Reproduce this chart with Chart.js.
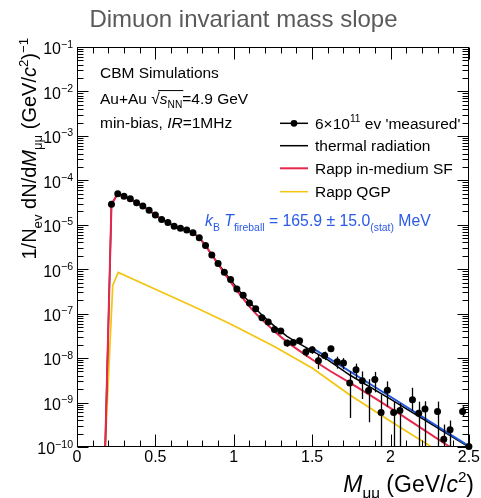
<!DOCTYPE html>
<html><head><meta charset="utf-8">
<script src="https://cdn.jsdelivr.net/npm/chart.js@4.4.1/dist/chart.umd.min.js"></script>
<style>html,body{margin:0;padding:0;background:#fff;}canvas{display:block;}</style>
</head><body>
<canvas id="c" width="481" height="498"></canvas>
<script>
// ---------------- data ----------------
const massBins = [0.22,0.26,0.30,0.34,0.38,0.42,0.46,0.50,0.54,0.58,
  0.62,0.66,0.70,0.74,0.78,0.82,0.86,0.90,0.94,0.98,
  1.02,1.06,1.10,1.14,1.18,1.22,1.26,1.30,1.34,1.38,
  1.42,1.46,1.50,1.54,1.58,1.62,1.66,1.70,1.74,1.78,
  1.82,1.86,1.90,1.94,1.98,2.02,2.06,2.10,2.14,2.18,
  2.22,2.26,2.30,2.34,2.38,2.42,2.46,2.50];
const measured = [2.88e-5,5.0e-5,4.4e-5,3.85e-5,3.13e-5,2.63e-5,2.11e-5,1.66e-5,1.32e-5,1.12e-5,
  9.3e-6,8.3e-6,7.6e-6,6.6e-6,5.1e-6,3.4e-6,2.1e-6,1.35e-6,8.5e-7,5.9e-7,
  3.6e-7,2.6e-7,1.74e-7,1.29e-7,8.1e-8,6.5e-8,4.4e-8,4.1e-8,2.2e-8,2.24e-8,
  2.45e-8,1.38e-8,1.55e-8,8.7e-9,1.15e-8,1.62e-8,8.3e-9,7.8e-9,2.75e-9,5.5e-9,
  3.1e-9,1.86e-9,3.3e-9,6.0e-10,1.9e-9,6.0e-10,6.6e-10,null,1.15e-9,5.75e-10,
  7.2e-10,null,6.3e-10,1.5e-10,2.45e-10,null,6.3e-10,1.02e-10];
const errUp = [0,0,0,0,0,0,0,0,0,0, 0,0,0,0,0,0,0,0,0,0, 0,0,0,0,0,0,0,0,4e-9,3e-9,
  3e-9,3e-9,3e-9,3e-9,2.5e-9,2.5e-9,2.5e-9,2.2e-9,2.3e-9,2e-9,
  1.9e-9,1.5e-9,1.6e-9,9e-10,1.1e-9,4.5e-10,3e-10,0,1e-9,4.7e-10,
  3.5e-10,0,4.2e-10,1.7e-10,1.5e-10,0,2e-10,2.4e-10];
const errDown = [0,0,0,0,0,0,0,0,0,0, 0,0,0,0,0,0,0,0,0,0, 0,0,0,0,0,0,0,0,4e-9,3e-9,
  3e-9,3e-9,3e-9,3e-9,2.5e-9,2.5e-9,2.5e-9,2.2e-9,2.3e-9,2e-9,
  1.9e-9,1.5e-9,1.6e-9,6e-10,1.1e-9,6e-10,6.6e-10,0,5e-10,5.75e-10,
  7.2e-10,0,6.3e-10,1.5e-10,2.45e-10,0,1.5e-10,1.02e-10];

const thermalM = [0.18,0.22,0.26,0.30,0.34,0.38,0.42,0.46,0.50,0.54,0.58,0.62,0.66,0.70,0.74,0.78,0.82,0.86,
  0.90,0.94,0.98,1.02,1.06,1.10,1.14,1.18,1.22,1.26,1.30,1.34,1.40,1.50,1.60,1.74,2.00,2.25,2.50];
const thermalY = [1e-10,2.9e-5,5.0e-5,4.4e-5,3.85e-5,3.13e-5,2.63e-5,2.11e-5,1.66e-5,1.32e-5,1.12e-5,9.3e-6,8.3e-6,7.6e-6,6.6e-6,5.1e-6,3.4e-6,2.1e-6,
  1.35e-6,8.7e-7,5.75e-7,3.8e-7,2.57e-7,1.82e-7,1.29e-7,9.3e-8,6.9e-8,5.25e-8,3.98e-8,3.09e-8,2.29e-8,1.45e-8,9.1e-9,4.17e-9,1.2e-9,3.47e-10,1.0e-10];

const rappSfM = [0.18,0.22,0.26,0.30,0.34,0.38,0.42,0.46,0.50,0.54,0.58,0.62,0.66,0.70,0.74,0.78,0.82,0.86,
  0.90,0.94,0.98,1.02,1.06,1.10,1.15,1.20,1.27,1.34,1.42,1.50,1.62,1.74,1.90,2.06,2.22,2.38];
const rappSfY = [1e-10,2.9e-5,5.0e-5,4.4e-5,3.85e-5,3.13e-5,2.63e-5,2.11e-5,1.66e-5,1.32e-5,1.12e-5,9.3e-6,8.3e-6,7.6e-6,6.6e-6,5.1e-6,3.4e-6,2.1e-6,
  1.29e-6,8.1e-7,5.1e-7,3.3e-7,2.19e-7,1.45e-7,9.3e-8,6.3e-8,3.7e-8,2.29e-8,1.45e-8,9.3e-9,5.0e-9,2.82e-9,1.26e-9,5.5e-10,2.34e-10,1.0e-10];

const qgpM = [0.18,0.228,0.263,0.50,0.75,0.976,1.25,1.50,1.741,2.00,2.262];
const qgpY = [1e-10,4.3e-7,8.5e-7,3.55e-7,1.41e-7,5.9e-8,1.9e-8,6.0e-9,1.48e-9,3.8e-10,1.0e-10];

const fitM = [1.50,2.00,2.50];
const fitY = [1.7e-8,1.35e-9,1.05e-10];

const xTickLabels = ['0','0.5','1','1.5','2','2.5'];
const yDecades = [-1,-2,-3,-4,-5,-6,-7,-8,-9,-10];

// ---------------- style ----------------
const FONT = '"Liberation Sans", Arial, Helvetica, sans-serif';
const RED = '#e8274f', YELLOW = '#f4c40f', BLUE = '#1f57d8', BLUE_TXT = '#2a5ae6';

function pts(ms, ys){ return ms.map((m,i)=>({x:m,y:ys[i]})).filter(p=>p.y!==null); }

function drawRich(ctx, parts, x, y, size, align, color){
  const segs = parts.map(([t,f])=>{
    f = f || '';
    const small = f.includes('b') || f.includes('p');
    const fs = small ? size*0.66 : size;
    const font = (f.includes('i') ? 'italic ' : '') + fs + 'px ' + FONT;
    ctx.font = font;
    return {t, font, w: ctx.measureText(t).width,
            dy: f.includes('b') ? size*0.28 : (f.includes('p') ? -size*0.42 : 0)};
  });
  const total = segs.reduce((a,s)=>a+s.w,0);
  let cx = align==='right' ? x-total : (align==='center' ? x-total/2 : x);
  ctx.textAlign='left'; ctx.textBaseline='alphabetic'; ctx.fillStyle=color||'#000';
  segs.forEach(s=>{ ctx.font=s.font; ctx.fillText(s.t, cx, y+s.dy); s.x=cx; cx+=s.w; });
  return segs;
}

const errorBars = {
  id:'errorBars',
  beforeDatasetDraw(chart, args){
    if (args.index !== 0) return;
    const {ctx, chartArea:a} = chart, xs = chart.scales.x, ys = chart.scales.y;
    ctx.save();
    ctx.beginPath(); ctx.rect(a.left, a.top, a.right-a.left, a.bottom-a.top); ctx.clip();
    ctx.strokeStyle='#000'; ctx.lineWidth=1.3;
    massBins.forEach((m,i)=>{
      const v = measured[i];
      if (v===null || (!errUp[i] && !errDown[i])) return;
      const px = Math.round(xs.getPixelForValue(m))+0.5;
      const top = ys.getPixelForValue(v+errUp[i]);
      const lo = v-errDown[i];
      const bot = lo > 1e-10 ? ys.getPixelForValue(lo) : a.bottom;
      ctx.beginPath(); ctx.moveTo(px, top); ctx.lineTo(px, bot); ctx.stroke();
    });
    ctx.restore();
  }
};

const decor = {
  id:'decor',
  afterDraw(chart){
    const {ctx, chartArea:a} = chart, xs = chart.scales.x, ys = chart.scales.y;
    const L=Math.round(a.left)+0.5, R=Math.round(a.right)-0.5, T=Math.round(a.top)+0.5, B=Math.round(a.bottom)-0.5;
    ctx.save();
    ctx.strokeStyle='#000'; ctx.lineWidth=1;
    ctx.strokeRect(L, T, R-L, B-T);
    ctx.beginPath();
    for (let k=0;k<=25;k++){
      const px = Math.round(xs.getPixelForValue(k*0.1))+0.5;
      const len = k%5===0 ? 12 : 6;
      ctx.moveTo(px,B); ctx.lineTo(px,B-len);
      ctx.moveTo(px,T); ctx.lineTo(px,T+len);
    }
    for (let d=-10; d<=-1; d++){
      for (let m=1;m<=9;m++){
        if (d===-1 && m>1) break;
        const py = Math.round(ys.getPixelForValue(m*Math.pow(10,d)))+0.5;
        const len = m===1 ? 11 : 6;
        ctx.moveTo(L,py); ctx.lineTo(L+len,py);
        ctx.moveTo(R,py); ctx.lineTo(R-len,py);
      }
    }
    ctx.stroke();

    // y tick labels
    yDecades.forEach(d=>{
      const py = ys.getPixelForValue(Math.pow(10,d));
      drawRich(ctx, [['10'],['\u2212'+(-d),'p']], 73, py+1.5+5.8, 16, 'right');
    });

    // axis titles
    drawRich(ctx, [['M','i'],['\u03bc\u03bc','b'],[' (GeV/'],['c','i'],['2','p'],[')']], 474, 492, 23, 'right');
    ctx.save(); ctx.translate(36, 38); ctx.rotate(-Math.PI/2);
    drawRich(ctx, [['1/N'],['ev','b'],[' dN/d'],['M','i'],['\u03bc\u03bc','b'],[' (GeV/'],['c','i'],['2','p'],[')'],['\u22121','p']], 0, 0, 20, 'right');
    ctx.restore();

    // annotations
    const fs = 15.5;
    drawRich(ctx, [['CBM Simulations']], 100, 78.3, fs, 'left');
    const s = drawRich(ctx, [['Au+Au '],['\u221a'],['s','i'],['NN','b'],['=4.9 GeV']], 100, 103.9, fs, 'left');
    ctx.beginPath(); ctx.lineWidth=1; ctx.strokeStyle='#000';
    const oy = 103.9 - fs*0.86;
    ctx.moveTo(s[1].x + s[1].w*0.8, oy); ctx.lineTo(s[3].x + s[3].w + 1, oy); ctx.stroke();
    drawRich(ctx, [['min-bias, '],['IR','i'],['=1MHz']], 100, 128.3, fs, 'left');

    drawRich(ctx, [['k','i'],['B','b'],[' '],['T','i'],['fireball','b'],[' = 165.9 \u00b1 15.0'],['(stat)','b'],[' MeV']], 205, 226.3, 15.8, 'left', BLUE_TXT);

    // legend
    const rows = [123.3, 145.7, 168.3, 191.7];
    const lx0 = 280, lx1 = 308, tx = 315;
    const items = [
      {c:'#000', w:1.5, dot:true, parts:[['6\u00d710'],['11','p'],[' ev \'measured\'']]},
      {c:'#000', w:1.5, parts:[['thermal radiation']]},
      {c:RED, w:2, parts:[['Rapp in-medium SF']]},
      {c:YELLOW, w:1.5, parts:[['Rapp QGP']]}
    ];
    items.forEach((it,i)=>{
      const y = rows[i];
      ctx.strokeStyle=it.c; ctx.lineWidth=it.w;
      ctx.beginPath(); ctx.moveTo(lx0,y); ctx.lineTo(lx1,y); ctx.stroke();
      if (it.dot){ ctx.fillStyle='#000'; ctx.beginPath(); ctx.arc((lx0+lx1)/2,y,3.4,0,Math.PI*2); ctx.fill(); }
      drawRich(ctx, it.parts, tx, y+5.6, 15.5, 'left');
    });
    ctx.restore();
  }
};

new Chart(document.getElementById('c'), {
  type:'scatter',
  data:{ datasets:[
    {label:"6\u00d710^11 ev 'measured'", data:pts(massBins, measured), showLine:false, order:0,
     pointRadius:3.5, pointBackgroundColor:'#000', pointBorderWidth:0, clip:false},
    {label:'fit', data:pts(fitM, fitY), showLine:true, order:1, borderColor:BLUE, borderWidth:2, pointRadius:0, tension:0},
    {label:'thermal radiation', data:pts(thermalM, thermalY), showLine:true, order:3, borderColor:'#000', borderWidth:1.5, pointRadius:0, tension:0},
    {label:'Rapp in-medium SF', data:pts(rappSfM, rappSfY), showLine:true, order:2, borderColor:RED, borderWidth:2, pointRadius:0, tension:0},
    {label:'Rapp QGP', data:pts(qgpM, qgpY), showLine:true, order:4, borderColor:YELLOW, borderWidth:1.7, pointRadius:0, tension:0}
  ]},
  options:{
    responsive:false, animation:false, devicePixelRatio:1,
    layout:{padding:{left:18, right:12, top:0, bottom:0}},
    plugins:{
      legend:{display:false}, tooltip:{enabled:false},
      title:{display:true, text:'Dimuon invariant mass slope', color:'#5a5a5a',
             font:{family:FONT, size:24, weight:'normal'}, padding:{top:6, bottom:12.2}}
    },
    scales:{
      x:{type:'linear', min:0, max:2.5, position:'bottom',
         grid:{display:false, drawTicks:false}, border:{display:false},
         ticks:{stepSize:0.5, color:'#000', font:{family:FONT, size:16}, padding:1, maxRotation:0,
                callback:(v,i)=>xTickLabels[i]},
         afterFit:(s)=>{ s.height = 51; }},
      y:{type:'logarithmic', min:1e-10, max:1e-1,
         grid:{display:false, drawTicks:false}, border:{display:false},
         ticks:{display:false},
         afterFit:(s)=>{ s.width = 59; }}
    }
  },
  plugins:[errorBars, decor]
});
</script>
</body></html>
